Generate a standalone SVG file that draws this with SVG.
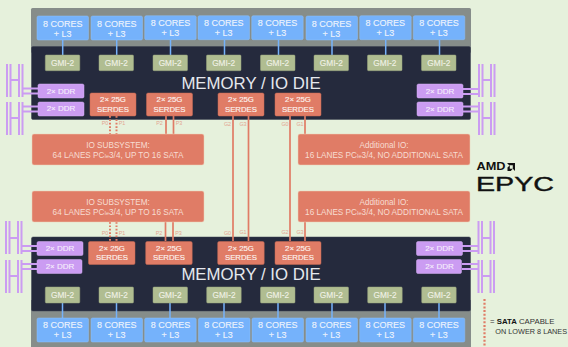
<svg xmlns="http://www.w3.org/2000/svg" width="568" height="347" viewBox="0 0 568 347">
<style>
text{font-family:"Liberation Sans",Arial,sans-serif;text-anchor:middle}
.pkg{fill:#868d8a}
.die{fill:#252a3d;stroke:#3a4050;stroke-width:.5}
.core{fill:#75b2fb;stroke:#8fc0f8;stroke-width:.5}
.ct{font-size:9px;fill:#eef4fb;stroke:#eef4fb;stroke-width:.12}
.gmi{fill:#b0bd91;stroke:#9aa67e;stroke-width:.5}
.gt{font-size:8.3px;fill:#f0f2e6;stroke:#f0f2e6;stroke-width:.12}
.ddr{fill:#cb9cf2;stroke:#d6b0f5;stroke-width:.5}
.dt{font-size:8px;fill:#f6effc;stroke:#f6effc;stroke-width:.12}
.ser{fill:#e07c66;stroke:#c96a55;stroke-width:.5}
.st{font-size:7.8px;fill:#fdf2ee;stroke:#fdf2ee;stroke-width:.15}
.io{fill:#e07c66;stroke:#edd0b8;stroke-width:.5}
.it{font-size:8.2px;fill:#f7dcd2}
.sm{font-size:5.5px}
.pl{font-size:5.4px;fill:#e3a491}
.l{stroke:#e07c66;stroke-width:1.7;fill:none}
.d{stroke:#e07c66;stroke-width:2;fill:none;stroke-dasharray:1.7 1.7}
.lg{stroke:#e07c66;stroke-width:2.2;fill:none;stroke-dasharray:2 1.7}
.b{stroke:#75b2fb;stroke-width:1.5;fill:none}
.p{stroke:#cb9cf2;stroke-width:2;fill:none}
.title{font-size:16.8px;fill:#e6e8ee}
.lt{text-anchor:start;font-size:7.8px;fill:#333}
</style>
<rect width="568" height="347" fill="#e6f1dc"/>
<g id="package-top"><rect class="pkg" x="31" y="8" width="440" height="45" rx="1.5"/></g>
<g id="package-bottom"><rect class="pkg" x="31" y="300" width="440" height="47"/></g>
<g id="die-top"><rect class="die" x="31.5" y="46.5" width="439" height="73" rx="1.5"/><text class="title" x="251" y="89">MEMORY / IO DIE</text></g>
<g id="die-bottom"><rect class="die" x="31.5" y="237" width="439" height="74" rx="1.5"/><text class="title" x="251" y="280">MEMORY / IO DIE</text></g>
<g id="connectors">
<path class="b" d="M62.7 40V55M116.7 40V55M170.5 40V55M224.5 40V55M278.5 40V55M332 40V55M385.7 40V55M439.5 40V55"/>
<path class="b" d="M62.5 303V318M116.5 303V318M170 303V318M224 303V318M278 303V318M332 303V318M385 303V318M439 303V318"/>
<path class="l" d="M233 116V241M248.500 116V241M290 116V241M305 116V134M305 222V241"/>
<path class="l" d="M166 116V134M173.500 116V134M165.500 222V241M173 222V241"/>
<path class="d" d="M110 116V134M116.500 116V134M110 222V241M116.500 222V241"/>
<path class="lg" d="M484.500 299V347"/>
</g>
<g id="pins">
<path class="p" d="M7 64V97M10.500 64V97M19 64V97M22.500 64V97M7 102V135M10.500 102V135M19 102V135M22.500 102V135"/>
<path class="p" d="M11 80H19M11 118H19M23 88.500H38M23 93.500H38M23 106.500H38M23 111.500H38"/>
<path class="p" d="M479 64V97M482.500 64V97M491 64V97M494.500 64V97M479 102V135M482.500 102V135M491 102V135M494.500 102V135"/>
<path class="p" d="M483 80H491M483 118H491M463 89H479M463 94H479M463 106.500H479M463 111.500H479"/>
<path class="p" d="M6 221V254M9.500 221V254M18 221V254M21.500 221V254M6 260V293M9.500 260V293M18 260V293M21.500 260V293"/>
<path class="p" d="M10 238H18M10 276H18M22 246H37M22 251H37M22 264H37M22 269H37"/>
<path class="p" d="M478.500 221V254M482 221V254M490.500 221V254M494 221V254M478.500 260V293M482 260V293M490.500 260V293M494 260V293"/>
<path class="p" d="M482 238H490M482 276H490M462 246H478M462 251H478M462 264H478M462 269H478"/>
</g>
<g id="core-t1"><rect class="core" x="37" y="16" width="51.500" height="24" rx="1.500"/><text class="ct" x="62.700" y="27">8 CORES</text><text class="ct" x="62.700" y="37">+ L3</text></g>
<g id="core-t2"><rect class="core" x="91" y="16" width="51.500" height="24" rx="1.500"/><text class="ct" x="116.700" y="27">8 CORES</text><text class="ct" x="116.700" y="37">+ L3</text></g>
<g id="core-t3"><rect class="core" x="144.700" y="15.700" width="51.500" height="24" rx="1.500"/><text class="ct" x="170.500" y="26">8 CORES</text><text class="ct" x="170.500" y="36">+ L3</text></g>
<g id="core-t4"><rect class="core" x="198" y="15.700" width="51.500" height="24" rx="1.500"/><text class="ct" x="223.700" y="26">8 CORES</text><text class="ct" x="223.700" y="36">+ L3</text></g>
<g id="core-t5"><rect class="core" x="251.700" y="15.700" width="51.500" height="24" rx="1.500"/><text class="ct" x="277.500" y="26">8 CORES</text><text class="ct" x="277.500" y="36">+ L3</text></g>
<g id="core-t6"><rect class="core" x="306" y="16" width="51.500" height="24" rx="1.500"/><text class="ct" x="331.500" y="27">8 CORES</text><text class="ct" x="331.500" y="37">+ L3</text></g>
<g id="core-t7"><rect class="core" x="359.700" y="15.700" width="51.500" height="24" rx="1.500"/><text class="ct" x="385.300" y="26">8 CORES</text><text class="ct" x="385.300" y="36">+ L3</text></g>
<g id="core-t8"><rect class="core" x="413.300" y="15.700" width="51.500" height="24" rx="1.500"/><text class="ct" x="439" y="26">8 CORES</text><text class="ct" x="439" y="36">+ L3</text></g>
<g id="gmi-t1"><rect class="gmi" x="45.300" y="55" width="34.500" height="15.700" rx="1"/><text class="gt" x="62.500" y="66">GMI-2</text></g>
<g id="gmi-t2"><rect class="gmi" x="99" y="55" width="34.500" height="15.700" rx="1"/><text class="gt" x="116.300" y="66">GMI-2</text></g>
<g id="gmi-t3"><rect class="gmi" x="153" y="55" width="34.500" height="15.700" rx="1"/><text class="gt" x="170.200" y="66">GMI-2</text></g>
<g id="gmi-t4"><rect class="gmi" x="206.500" y="55" width="34.500" height="15.700" rx="1"/><text class="gt" x="223.700" y="66">GMI-2</text></g>
<g id="gmi-t5"><rect class="gmi" x="260.500" y="55" width="34.500" height="15.700" rx="1"/><text class="gt" x="277.700" y="66">GMI-2</text></g>
<g id="gmi-t6"><rect class="gmi" x="314" y="55" width="34.500" height="15.700" rx="1"/><text class="gt" x="331.300" y="66">GMI-2</text></g>
<g id="gmi-t7"><rect class="gmi" x="367.500" y="55" width="34.500" height="15.700" rx="1"/><text class="gt" x="384.800" y="66">GMI-2</text></g>
<g id="gmi-t8"><rect class="gmi" x="421.500" y="55" width="34.500" height="15.700" rx="1"/><text class="gt" x="438.800" y="66">GMI-2</text></g>
<g id="ddr-tl1"><rect class="ddr" x="38" y="84" width="46" height="14" rx="1.500"/><text class="dt" x="61" y="94">2× DDR</text></g>
<g id="ddr-tl2"><rect class="ddr" x="38" y="102" width="46" height="14" rx="1.500"/><text class="dt" x="61" y="111">2× DDR</text></g>
<g id="ddr-tr1"><rect class="ddr" x="417" y="84" width="46" height="14" rx="1.500"/><text class="dt" x="440" y="94">2× DDR</text></g>
<g id="ddr-tr2"><rect class="ddr" x="417" y="102" width="46" height="14" rx="1.500"/><text class="dt" x="440" y="112">2× DDR</text></g>
<g id="ser-t1"><rect class="ser" x="90" y="93" width="46" height="23" rx="1.500"/><text class="st" x="113" y="102">2× 25G</text><text class="st" x="113" y="112">SERDES</text></g>
<g id="ser-t2"><rect class="ser" x="146.500" y="93" width="46" height="23" rx="1.500"/><text class="st" x="169.500" y="102">2× 25G</text><text class="st" x="169.500" y="112">SERDES</text></g>
<g id="ser-t3"><rect class="ser" x="218" y="93" width="46" height="23" rx="1.500"/><text class="st" x="241" y="102">2× 25G</text><text class="st" x="241" y="112">SERDES</text></g>
<g id="ser-t4"><rect class="ser" x="275" y="93" width="46" height="23" rx="1.500"/><text class="st" x="298" y="102">2× 25G</text><text class="st" x="298" y="112">SERDES</text></g>
<g id="io-t1"><rect class="io" x="32" y="134" width="172" height="31" rx="2"/><text class="it" x="118" y="148">IO SUBSYSTEM:</text><text class="it" x="118" y="158">64 LANES PC<tspan class="sm">Ie</tspan>3/4, UP TO 16 SATA</text></g>
<g id="io-t2"><rect class="io" x="298" y="134" width="172" height="31" rx="2"/><text class="it" x="384" y="148">Additional IO:</text><text class="it" x="384" y="158">16 LANES PC<tspan class="sm">Ie</tspan>3/4, NO ADDITIONAL SATA</text></g>
<g id="io-b1"><rect class="io" x="32" y="191" width="172" height="31" rx="2"/><text class="it" x="118" y="205">IO SUBSYSTEM:</text><text class="it" x="118" y="215">64 LANES PC<tspan class="sm">Ie</tspan>3/4, UP TO 16 SATA</text></g>
<g id="io-b2"><rect class="io" x="298" y="191" width="172" height="31" rx="2"/><text class="it" x="384" y="205">Additional IO:</text><text class="it" x="384" y="215">16 LANES PC<tspan class="sm">Ie</tspan>3/4, NO ADDITIONAL SATA</text></g>
<g id="ports">
<text class="pl" x="105" y="125">P0</text><text class="pl" x="122" y="125">P1</text><text class="pl" x="159.500" y="125">P2</text><text class="pl" x="179" y="125">P3</text><text class="pl" x="227.500" y="126">G2</text><text class="pl" x="243" y="126">G3</text><text class="pl" x="285" y="126">G0</text><text class="pl" x="300" y="126">G1</text>
<text class="pl" x="105" y="235">P0</text><text class="pl" x="122" y="235">P1</text><text class="pl" x="159" y="235">P2</text><text class="pl" x="178.500" y="235">P3</text><text class="pl" x="227.500" y="235">G0</text><text class="pl" x="243" y="234">G1</text><text class="pl" x="285" y="234">G2</text><text class="pl" x="300" y="234">G3</text>
</g>
<g id="ddr-bl1"><rect class="ddr" x="37" y="241.500" width="46" height="14" rx="1.500"/><text class="dt" x="60" y="251">2× DDR</text></g>
<g id="ddr-bl2"><rect class="ddr" x="37" y="259.500" width="45" height="14" rx="1.500"/><text class="dt" x="60" y="269">2× DDR</text></g>
<g id="ddr-br1"><rect class="ddr" x="416.500" y="241.500" width="46" height="14" rx="1.500"/><text class="dt" x="439.500" y="251">2× DDR</text></g>
<g id="ddr-br2"><rect class="ddr" x="416.500" y="259.500" width="45" height="14" rx="1.500"/><text class="dt" x="439.500" y="269">2× DDR</text></g>
<g id="ser-b1"><rect class="ser" x="88.500" y="241.500" width="46.500" height="23" rx="1.500"/><text class="st" x="112" y="251">2× 25G</text><text class="st" x="112" y="260">SERDES</text></g>
<g id="ser-b2"><rect class="ser" x="145.700" y="241.500" width="46.500" height="23" rx="1.500"/><text class="st" x="169" y="251">2× 25G</text><text class="st" x="169" y="260">SERDES</text></g>
<g id="ser-b3"><rect class="ser" x="217.700" y="241.500" width="46.500" height="23" rx="1.500"/><text class="st" x="241" y="251">2× 25G</text><text class="st" x="241" y="260">SERDES</text></g>
<g id="ser-b4"><rect class="ser" x="275" y="241.500" width="46" height="23" rx="1.500"/><text class="st" x="298" y="251">2× 25G</text><text class="st" x="298" y="260">SERDES</text></g>
<g id="gmi-b1"><rect class="gmi" x="45.300" y="287" width="34.500" height="16" rx="1"/><text class="gt" x="62.500" y="298">GMI-2</text></g>
<g id="gmi-b2"><rect class="gmi" x="99" y="287" width="34.500" height="16" rx="1"/><text class="gt" x="116.300" y="298">GMI-2</text></g>
<g id="gmi-b3"><rect class="gmi" x="153" y="287" width="34.500" height="16" rx="1"/><text class="gt" x="170.200" y="298">GMI-2</text></g>
<g id="gmi-b4"><rect class="gmi" x="206.700" y="287" width="34.500" height="16" rx="1"/><text class="gt" x="224" y="298">GMI-2</text></g>
<g id="gmi-b5"><rect class="gmi" x="260.500" y="287" width="34.500" height="16" rx="1"/><text class="gt" x="277.700" y="298">GMI-2</text></g>
<g id="gmi-b6"><rect class="gmi" x="314" y="287" width="34.500" height="16" rx="1"/><text class="gt" x="331.300" y="298">GMI-2</text></g>
<g id="gmi-b7"><rect class="gmi" x="367.700" y="287" width="34.500" height="16" rx="1"/><text class="gt" x="385" y="298">GMI-2</text></g>
<g id="gmi-b8"><rect class="gmi" x="421.700" y="287" width="34.500" height="16" rx="1"/><text class="gt" x="439" y="298">GMI-2</text></g>
<g id="core-b1"><rect class="core" x="37" y="318" width="51.500" height="24" rx="1.500"/><text class="ct" x="62.700" y="328">8 CORES</text><text class="ct" x="62.700" y="338">+ L3</text></g>
<g id="core-b2"><rect class="core" x="91" y="318" width="51.500" height="24" rx="1.500"/><text class="ct" x="116.700" y="328">8 CORES</text><text class="ct" x="116.700" y="338">+ L3</text></g>
<g id="core-b3"><rect class="core" x="144.700" y="318" width="51.500" height="24" rx="1.500"/><text class="ct" x="170.500" y="328">8 CORES</text><text class="ct" x="170.500" y="338">+ L3</text></g>
<g id="core-b4"><rect class="core" x="198.500" y="318" width="51.500" height="24" rx="1.500"/><text class="ct" x="224" y="328">8 CORES</text><text class="ct" x="224" y="338">+ L3</text></g>
<g id="core-b5"><rect class="core" x="252" y="318" width="51.500" height="24" rx="1.500"/><text class="ct" x="277.700" y="328">8 CORES</text><text class="ct" x="277.700" y="338">+ L3</text></g>
<g id="core-b6"><rect class="core" x="306" y="318" width="51.500" height="24" rx="1.500"/><text class="ct" x="331.500" y="328">8 CORES</text><text class="ct" x="331.500" y="338">+ L3</text></g>
<g id="core-b7"><rect class="core" x="359.700" y="318" width="51.500" height="24" rx="1.500"/><text class="ct" x="385.300" y="328">8 CORES</text><text class="ct" x="385.300" y="338">+ L3</text></g>
<g id="core-b8"><rect class="core" x="413.300" y="318" width="51.500" height="24" rx="1.500"/><text class="ct" x="439" y="328">8 CORES</text><text class="ct" x="439" y="338">+ L3</text></g>
<g id="logo">
<text x="476.500" y="170" style="text-anchor:start;font-size:10px;font-weight:bold;fill:#111" textLength="29" lengthAdjust="spacingAndGlyphs">AMD</text>
<path d="M507 163h8v8l-2.200-2.200v-3.600h-3.600zM507.500 171v-3.400l2.300-2.300v3.500h3l-2 2.200z" fill="#111"/>
<text x="476" y="191" style="text-anchor:start;font-size:21px;fill:#111;stroke:#111;stroke-width:.4" textLength="78" lengthAdjust="spacingAndGlyphs">EPYC</text>
</g>
<g id="legend">
<text class="lt" x="490" y="323.500">= <tspan font-weight="bold" fill="#111">SATA</tspan> CAPABLE</text>
<text class="lt" x="489" y="333.500" style="font-size:7.300px"><tspan fill="#eef5e8">= </tspan>ON LOWER 8 LANES</text>
</g>
</svg>
